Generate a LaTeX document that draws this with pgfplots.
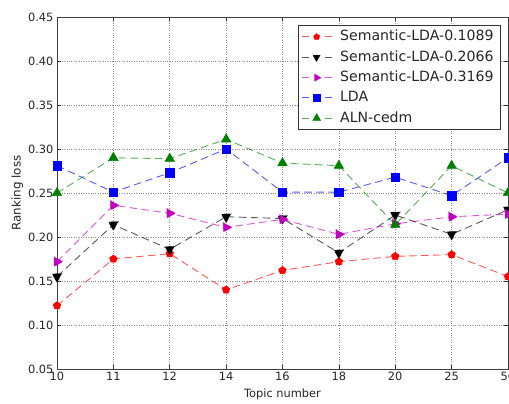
\documentclass[border=0pt]{standalone}
\usepackage{fontspec}
\setmainfont{DejaVu Sans}
\usepackage{pgfplots}
\pgfplotsset{compat=1.18}

\definecolor{mplred}{rgb}{1,0,0}
\definecolor{mplblack}{rgb}{0,0,0}
\definecolor{mplmag}{rgb}{0.75,0,0.75}
\definecolor{mplblue}{rgb}{0,0,1}
\definecolor{mplgreen}{rgb}{0,0.5,0}

\pgfplotsset{
  serie/.style={
    color=#1, line width=0.9pt, dash pattern=on 7.5pt off 4.5pt,
    draw opacity=0.65,
    mark options={solid, draw opacity=1, fill=#1, draw=#1, line width=0.5pt},
  },
}

\begin{document}
\begin{tikzpicture}
\begin{axis}[
  scale only axis,
  width=451pt, height=352pt,
  xmin=0, xmax=8,
  ymin=0.05, ymax=0.45,
  xtick={0,...,8},
  xticklabels={10,11,12,14,16,18,20,25,50},
  ytick={0.05,0.10,...,0.46},
  yticklabel style={/pgf/number format/fixed, /pgf/number format/fixed zerofill, /pgf/number format/precision=2},
  /pgf/number format/assume math mode=true,
  tick label style={font=\fontsize{11.4}{13}\selectfont, color=black!85},
  label style={font=\fontsize{11.4}{13}\selectfont, color=black!85},
  xlabel={Topic number},
  ylabel={Ranking loss},
  xlabel style={yshift=-1pt},
  ylabel style={yshift=-2pt, font=\fontsize{11.9}{13}\selectfont},
  grid=major,
  major grid style={dotted, black!45, line width=0.6pt},
  tick align=inside,
  major tick length=4pt,
  tick style={black!80, line width=0.6pt},
  axis line style={black!75, line width=0.9pt},
  legend cell align=left,
  legend style={
    at={(1,1)}, anchor=north east, xshift=-7pt, yshift=-8pt,
    font=\fontsize{14.1}{16}\selectfont,
    draw=black!80, line width=0.8pt,
    inner xsep=3pt, inner ysep=3pt,
    column sep=4pt,
    row sep=3.3pt,
    nodes={inner xsep=2pt, inner ysep=2pt, text height=10.5pt, text depth=2.5pt},
    /tikz/every even column/.append style={nodes={inner xsep=4pt}},
    text=black!85,
  },
  legend image code/.code={
    \draw[dash pattern=on 7pt off 16pt, mark repeat=2, mark phase=2,
          every mark/.append style={scale=0.8}]
      plot coordinates {(0pt,0pt) (15pt,0pt) (30pt,0pt)};
  },
]
\addplot[serie=mplred, mark=pentagon*, mark size=4pt] coordinates {
  (0,0.122) (1,0.175) (2,0.181) (3,0.140) (4,0.162) (5,0.172) (6,0.178) (7,0.180) (8,0.155)};
\addlegendentry{Semantic-LDA-0.1089}
\addplot[serie=mplblack, mark=triangle*, mark size=5.5pt, mark options={rotate=180}] coordinates {
  (0,0.155) (1,0.214) (2,0.186) (3,0.223) (4,0.221) (5,0.182) (6,0.225) (7,0.203) (8,0.231)};
\addlegendentry{Semantic-LDA-0.2066}
\addplot[serie=mplmag, mark=triangle*, mark size=5.5pt, mark options={rotate=-90}] coordinates {
  (0,0.172) (1,0.236) (2,0.227) (3,0.211) (4,0.220) (5,0.203) (6,0.215) (7,0.223) (8,0.226)};
\addlegendentry{Semantic-LDA-0.3169}
\addplot[serie=mplblue, mark=square*, mark size=4.2pt] coordinates {
  (0,0.281) (1,0.251) (2,0.273) (3,0.300) (4,0.251) (5,0.251) (6,0.268) (7,0.247) (8,0.290)};
\addlegendentry{LDA}
\addplot[serie=mplgreen, mark=triangle*, mark size=5.5pt] coordinates {
  (0,0.250) (1,0.290) (2,0.289) (3,0.311) (4,0.284) (5,0.281) (6,0.214) (7,0.281) (8,0.250)};
\addlegendentry{ALN-cedm}
\end{axis}
\pgfresetboundingbox
\path[use as bounding box] (-57pt,-35pt) rectangle (452pt,369pt);
\end{tikzpicture}
\end{document}
